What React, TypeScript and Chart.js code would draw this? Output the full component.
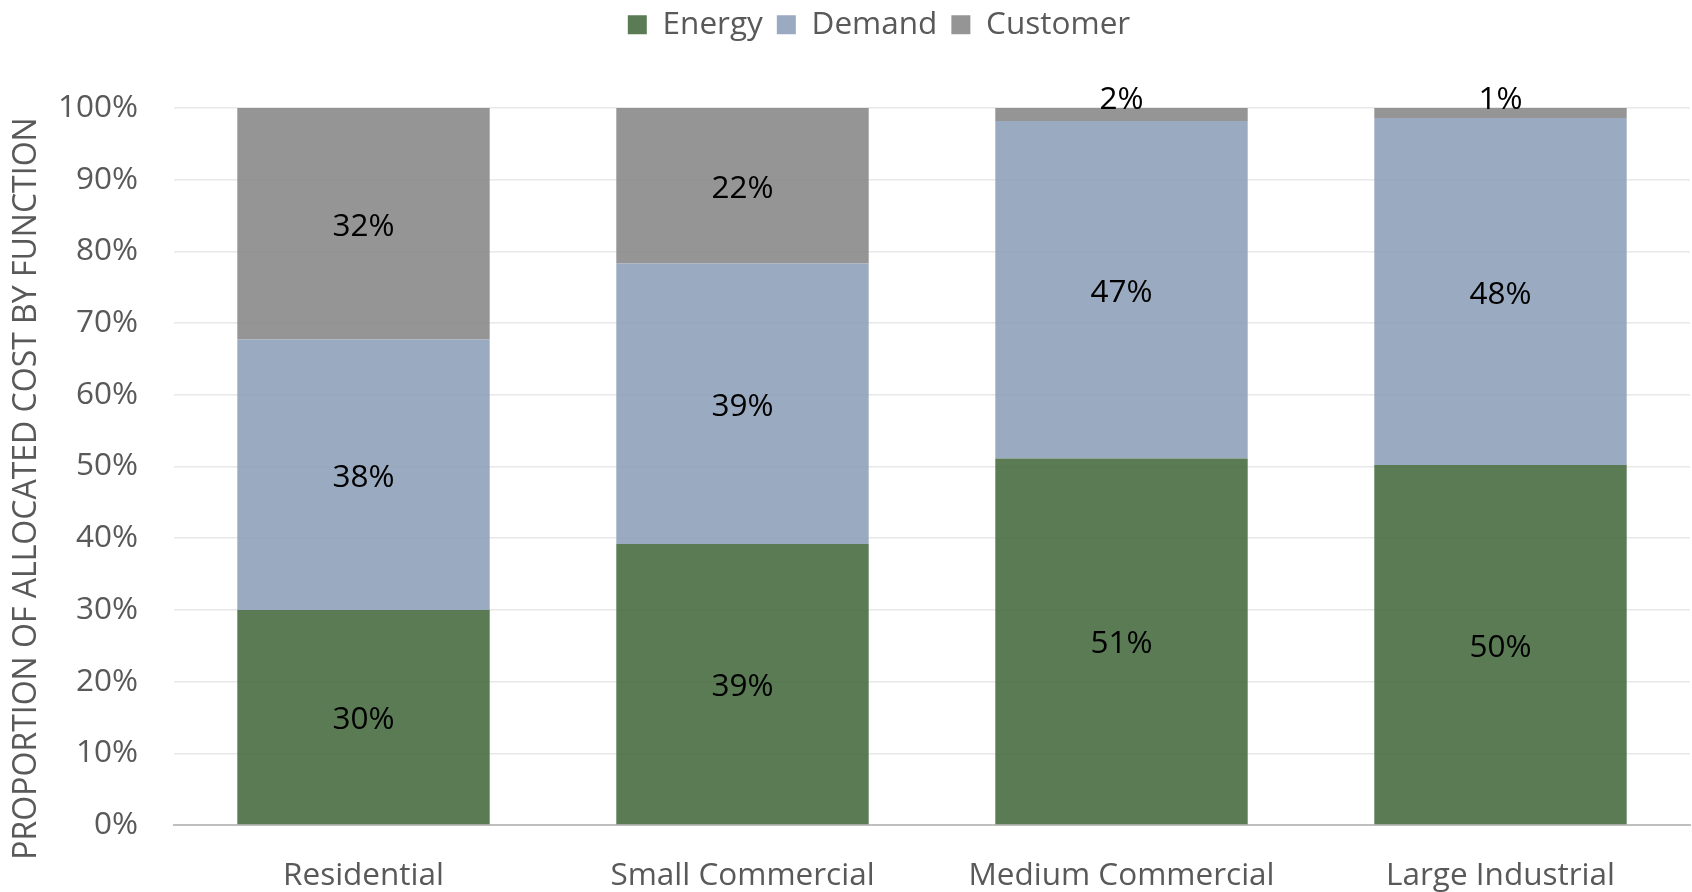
import { useEffect, useRef } from "react";
import { Chart, registerables } from "chart.js";

Chart.register(...registerables);

const categories = ["Residential", "Small Commercial", "Medium Commercial", "Large Industrial"];
const seriesNames = ["Energy", "Demand", "Customer"];
const energy = [30.0, 39.2, 51.1, 50.2];
const demand = [37.7, 39.1, 47.1, 48.4];
const customer = [32.3, 21.7, 1.8, 1.4];
const yMin = 0;
const yMax = 100;
const yStep = 10;
const yTitle = "PROPORTION OF ALLOCATED COST BY FUNCTION";

const FONT = "'Open Sans', sans-serif";
const FS = 31.5;
const GREY_TEXT = "#595959";
const colors = ["rgba(72,109,65,0.9)", "rgba(143,161,185,0.9)", "rgba(138,138,138,0.9)"];

const segLabels = {
  id: "segLabels",
  afterDatasetsDraw(chart: any) {
    const ctx = chart.ctx;
    ctx.save();
    ctx.font = `${FS}px ${FONT}`;
    ctx.fillStyle = "#000000";
    ctx.textAlign = "center";
    chart.data.datasets.forEach((ds: any, di: number) => {
      const meta = chart.getDatasetMeta(di);
      meta.data.forEach((el: any, i: number) => {
        const v = ds.data[i];
        const { x, y, base } = el.getProps(["x", "y", "base"], true);
        const h = base - y;
        const text = Math.round(v) + "%";
        if (h < 34) {
          ctx.textBaseline = "alphabetic";
          ctx.fillText(text, x, y + 1);
        } else {
          ctx.textBaseline = "middle";
          ctx.fillText(text, x, (y + base) / 2 + 3);
        }
      });
    });
    ctx.restore();
  },
};

const yTitlePlugin = {
  id: "yTitle",
  afterDraw(chart: any) {
    const ctx = chart.ctx;
    const ca = chart.chartArea;
    ctx.save();
    ctx.font = `32px ${FONT}`;
    ctx.fillStyle = GREY_TEXT;
    ctx.textAlign = "center";
    ctx.textBaseline = "middle";
    ctx.translate(27, (ca.top + ca.bottom) / 2 + 22);
    ctx.rotate(-Math.PI / 2);
    ctx.fillText(yTitle, 0, 0);
    ctx.restore();
  },
};

const legendPatch = {
  id: "legendPatch",
  beforeUpdate(chart: any) {
    const lg = chart.legend;
    if (lg && !lg._patched) {
      const f = lg.fit.bind(lg);
      lg.fit = () => {
        f();
        lg.height = 113;
      };
      lg._patched = true;
    }
  },
  afterLayout(chart: any) {
    const lg = chart.legend;
    if (lg) {
      lg.left += 34;
      lg.right += 34;
    }
  },
};

export default function App() {
  const ref = useRef<HTMLCanvasElement | null>(null);
  useEffect(() => {
    if (!ref.current) return;
    const chart = new Chart(ref.current, {
      type: "bar",
      data: {
        labels: categories,
        datasets: [
          { label: seriesNames[0], data: energy, backgroundColor: colors[0] },
          { label: seriesNames[1], data: demand, backgroundColor: colors[1] },
          { label: seriesNames[2], data: customer, backgroundColor: colors[2] },
        ],
      },
      options: {
        responsive: false,
        animation: false,
        devicePixelRatio: 1,
        layout: { padding: { top: -5, right: 2, left: 0, bottom: 0 } },
        plugins: {
          legend: {
            position: "top",
            labels: {
              color: GREY_TEXT,
              font: { size: FS, family: FONT },
              boxWidth: 19,
              boxHeight: 19,
              padding: 14,
            },
          },
          tooltip: { enabled: false },
        },
        datasets: { bar: { categoryPercentage: 1, barPercentage: 0.666 } },
        scales: {
          x: {
            stacked: true,
            grid: { display: false, drawTicks: false },
            border: { display: true, color: "#BFBFBF", width: 2 },
            ticks: { color: GREY_TEXT, font: { size: FS, family: FONT }, padding: 32, maxRotation: 0 },
            afterFit: (s: any) => {
              s.height = 67;
            },
          },
          y: {
            stacked: true,
            min: yMin,
            max: yMax,
            grid: { color: "#E8E8E8", lineWidth: 1.5, drawTicks: false },
            border: { display: false },
            ticks: {
              stepSize: yStep,
              color: GREY_TEXT,
              font: { size: FS, family: FONT },
              padding: 36,
              callback: (v: any) => v + "%",
            },
            afterFit: (s: any) => {
              s.width = 174;
            },
          },
        },
      },
      plugins: [segLabels, yTitlePlugin, legendPatch],
    });
    (document as any).fonts?.load?.(`${FS}px 'Open Sans'`).then(() => chart.update());
    return () => chart.destroy();
  }, []);
  return (
    <div style={{ position: "absolute", left: 0, top: 0, width: 1692, height: 892, background: "#fff" }}>
      <canvas ref={ref} width={1692} height={892} style={{ width: 1692, height: 892 }} />
    </div>
  );
}
